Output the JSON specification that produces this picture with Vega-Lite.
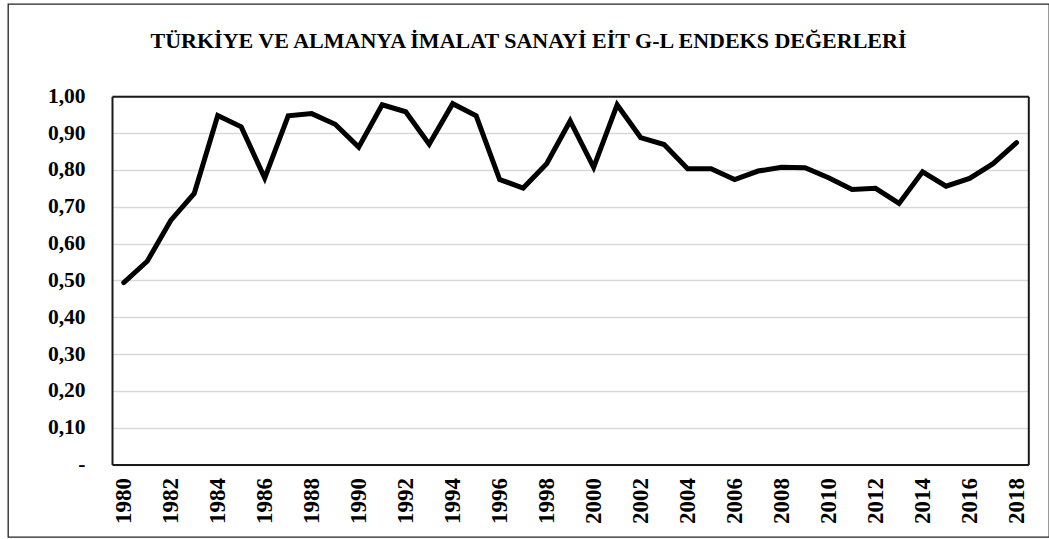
{
  "$schema": "https://vega.github.io/schema/vega-lite/v6.json",
  "width": 1041,
  "height": 533,
  "autosize": {"type": "none"},
  "padding": {"left": 8, "top": 4, "right": 0, "bottom": 2},
  "background": "white",
  "title": {
    "text": "TÜRKİYE VE ALMANYA İMALAT SANAYİ EİT G-L ENDEKS DEĞERLERİ",
    "font": "Liberation Serif",
    "fontSize": 22,
    "fontWeight": "bold",
    "color": "black",
    "anchor": "middle",
    "frame": "group",
    "baseline": "alphabetic",
    "offset": -66
  },
  "config": {
    "view": {"stroke": "#222222", "strokeWidth": 1.3, "fill": "white"}
  },
  "data": {
    "values": [
      {"year": 1980, "value": 0.494},
      {"year": 1981, "value": 0.552},
      {"year": 1982, "value": 0.663},
      {"year": 1983, "value": 0.736},
      {"year": 1984, "value": 0.948},
      {"year": 1985, "value": 0.917},
      {"year": 1986, "value": 0.778},
      {"year": 1987, "value": 0.947},
      {"year": 1988, "value": 0.953},
      {"year": 1989, "value": 0.924},
      {"year": 1990, "value": 0.862},
      {"year": 1991, "value": 0.977},
      {"year": 1992, "value": 0.958},
      {"year": 1993, "value": 0.870},
      {"year": 1994, "value": 0.980},
      {"year": 1995, "value": 0.947},
      {"year": 1996, "value": 0.774},
      {"year": 1997, "value": 0.751},
      {"year": 1998, "value": 0.817},
      {"year": 1999, "value": 0.933},
      {"year": 2000, "value": 0.807},
      {"year": 2001, "value": 0.977},
      {"year": 2002, "value": 0.888},
      {"year": 2003, "value": 0.869},
      {"year": 2004, "value": 0.803},
      {"year": 2005, "value": 0.803},
      {"year": 2006, "value": 0.774},
      {"year": 2007, "value": 0.797},
      {"year": 2008, "value": 0.807},
      {"year": 2009, "value": 0.806},
      {"year": 2010, "value": 0.779},
      {"year": 2011, "value": 0.747},
      {"year": 2012, "value": 0.750},
      {"year": 2013, "value": 0.709},
      {"year": 2014, "value": 0.795},
      {"year": 2015, "value": 0.756},
      {"year": 2016, "value": 0.777},
      {"year": 2017, "value": 0.817},
      {"year": 2018, "value": 0.874}
    ]
  },
  "layer": [
    {
      "mark": {"type": "line", "color": "black", "strokeWidth": 5, "strokeCap": "round", "strokeJoin": "miter", "clip": false},
      "encoding": {
        "x": {
          "field": "year",
          "type": "ordinal",
          "scale": {"type": "point", "range": [104, 1020.3], "padding": 0.5},
          "axis": {
            "orient": "bottom",
            "offset": -72.5,
            "title": null,
            "values": [1980, 1982, 1984, 1986, 1988, 1990, 1992, 1994, 1996, 1998, 2000, 2002, 2004, 2006, 2008, 2010, 2012, 2014, 2016, 2018],
            "labelAngle": -90,
            "labelAlign": "right",
            "labelBaseline": "middle",
            "labelFont": "Liberation Serif",
            "labelFontWeight": "bold",
            "labelFontSize": 23,
            "labelColor": "black",
            "labelPadding": 13,
            "ticks": false,
            "tickSize": 0,
            "grid": false,
            "domain": true,
            "domainColor": "#1a1a1a",
            "domainWidth": 2,
            "labelOverlap": false
          }
        },
        "y": {
          "field": "value",
          "type": "quantitative",
          "scale": {"domain": [0, 1], "range": [460.5, 92.3], "nice": false},
          "axis": {
            "orient": "left",
            "offset": -104,
            "title": null,
            "values": [0, 0.1, 0.2, 0.3, 0.4, 0.5, 0.6, 0.7, 0.8, 0.9, 1.0],
            "labelExpr": "datum.value == 0 ? '-' : replace(format(datum.value, '.2f'), '.', ',')",
            "labelFont": "Liberation Serif",
            "labelFontWeight": "bold",
            "labelFontSize": 21.5,
            "labelColor": "black",
            "labelPadding": 27,
            "ticks": false,
            "tickSize": 0,
            "grid": true,
            "gridColor": "#d9d9d9",
            "gridWidth": 1.5,
            "domain": true,
            "domainColor": "#1a1a1a",
            "domainWidth": 2,
            "labelOverlap": false
          }
        }
      }
    },
    {
      "mark": {"type": "line", "strokeOpacity": 0, "clip": false},
      "encoding": {
        "x": {
          "field": "year",
          "type": "ordinal",
          "axis": {
            "orient": "top",
            "offset": -92.3,
            "title": null,
            "labels": false,
            "ticks": false,
            "tickSize": 0,
            "grid": false,
            "domain": true,
            "domainColor": "#1a1a1a",
            "domainWidth": 2
          }
        },
        "y": {
          "field": "value",
          "type": "quantitative",
          "axis": {
            "orient": "right",
            "offset": -20.7,
            "title": null,
            "labels": false,
            "ticks": false,
            "tickSize": 0,
            "grid": false,
            "domain": true,
            "domainColor": "#1a1a1a",
            "domainWidth": 2
          }
        }
      }
    }
  ],
  "resolve": {"axis": {"x": "independent", "y": "independent"}}
}
